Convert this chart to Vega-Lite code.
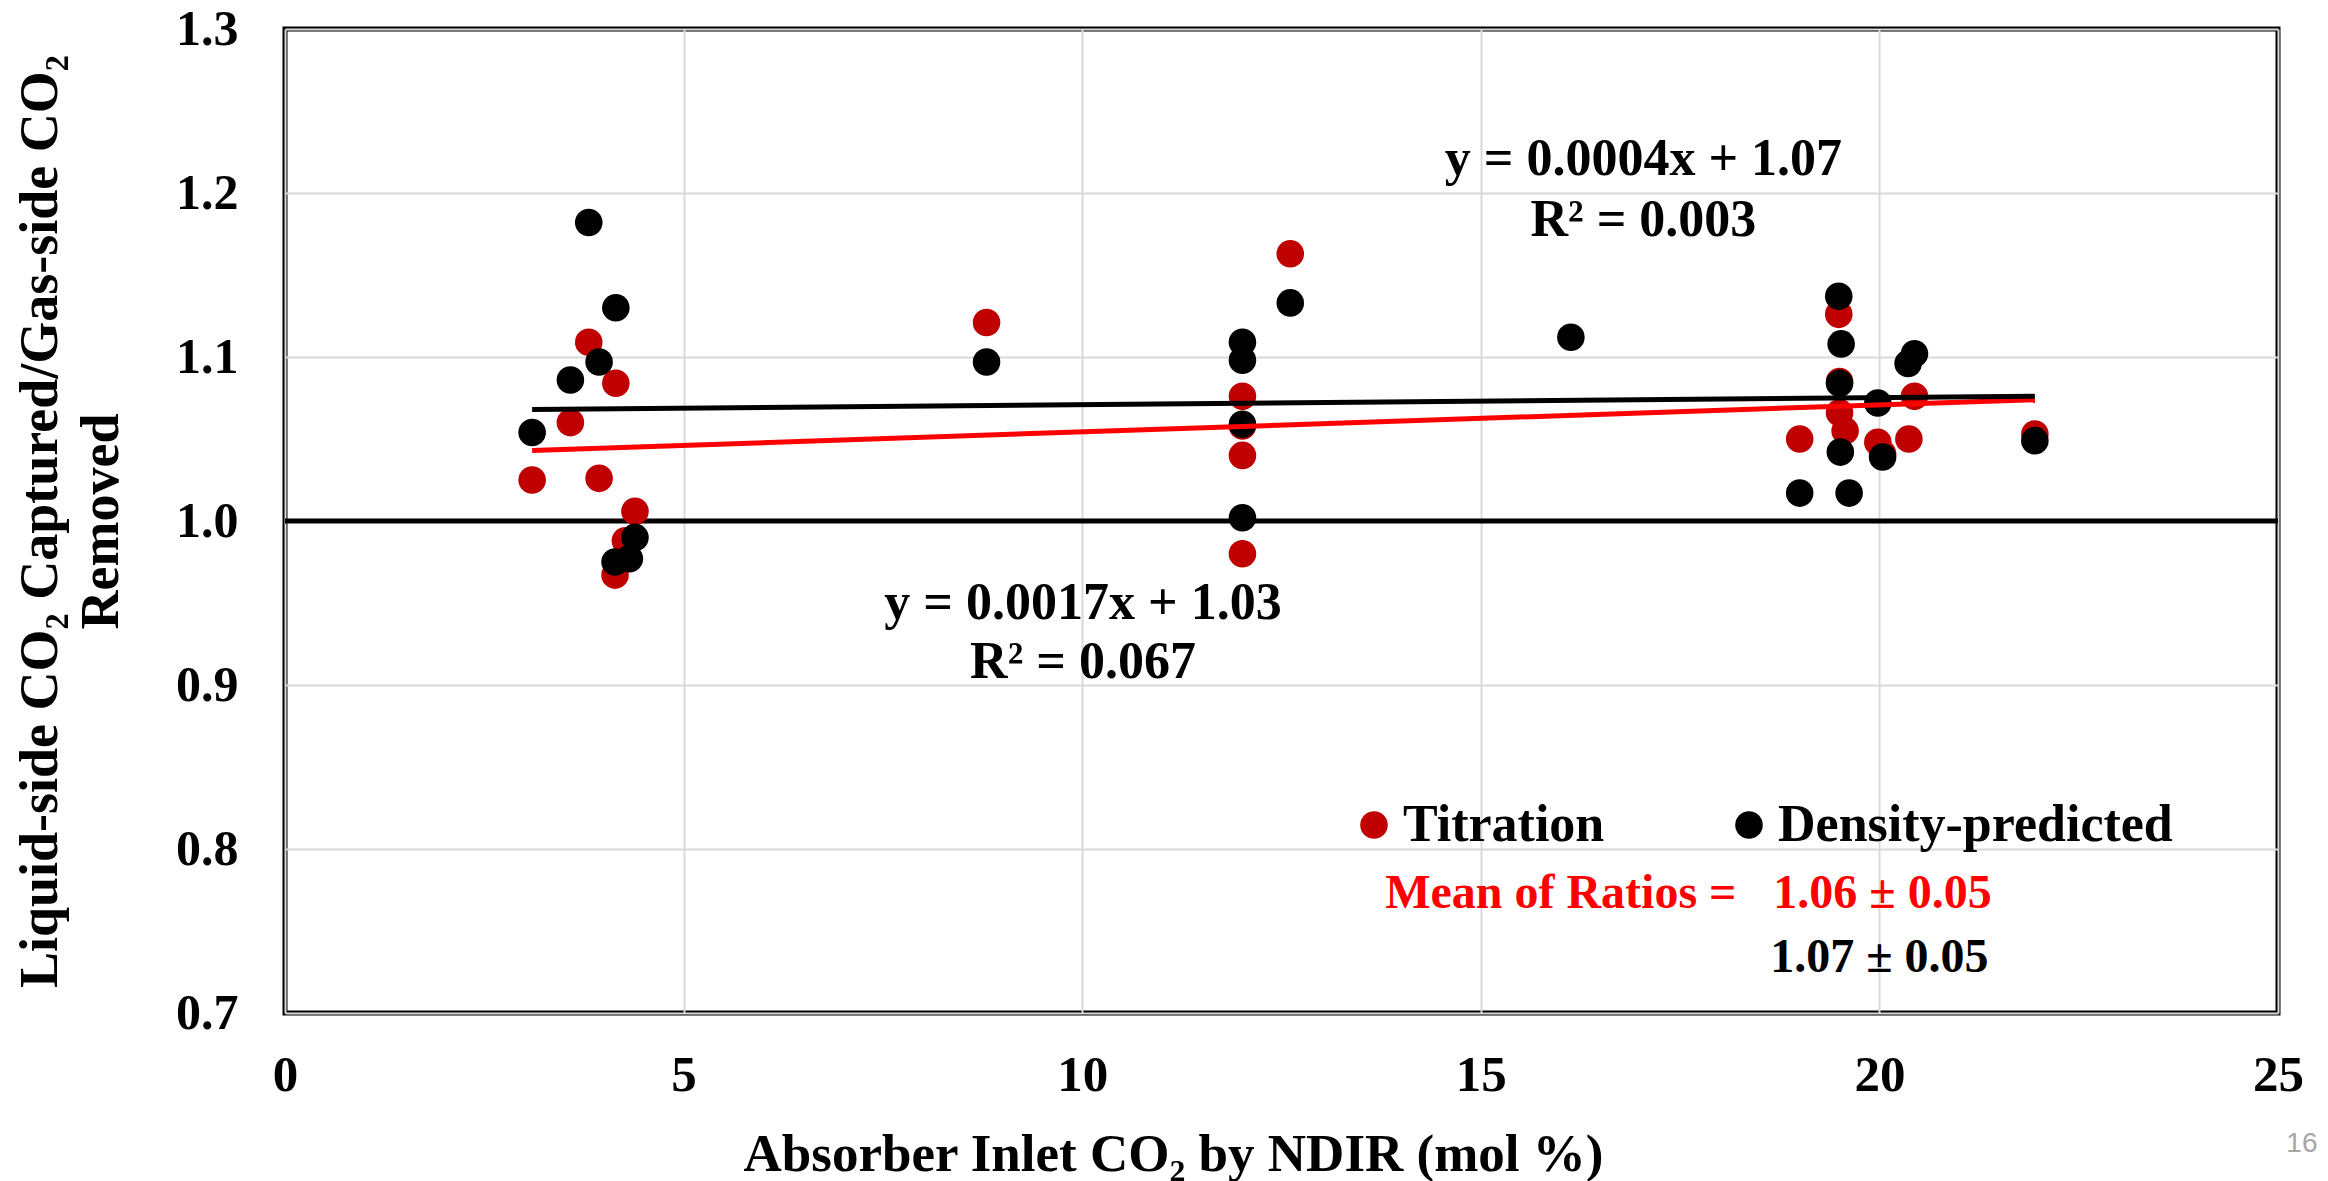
{
  "$schema": "https://vega.github.io/schema/vega-lite/v6.json",
  "width": 1993,
  "height": 984,
  "autosize": "none",
  "padding": {"left": 285, "top": 29, "right": 50, "bottom": 168},
  "background": "white",
  "config": {
    "view": {"stroke": "#000000", "strokeWidth": 5},
    "font": "Liberation Serif",
    "axis": {
      "labelFont": "Liberation Serif",
      "labelFontWeight": "bold",
      "labelColor": "#000000",
      "titleFont": "Liberation Serif",
      "titleFontWeight": "bold",
      "titleColor": "#000000",
      "grid": true,
      "gridColor": "#D9D9D9",
      "gridWidth": 2,
      "domain": false,
      "ticks": false,
      "tickSize": 0,
      "labelFlush": false,
      "labelOverlap": false,
      "titleLimit": 3000,
      "labelLimit": 1000
    },
    "legend": {
      "labelFont": "Liberation Serif",
      "labelFontWeight": "bold",
      "labelColor": "#000000",
      "labelFontSize": 52,
      "labelLimit": 2000,
      "symbolType": "circle",
      "symbolSize": 760,
      "symbolStrokeWidth": 0,
      "padding": 0,
      "rowPadding": 0
    }
  },
  "datasets": {
    "points": [
      {"series": "Titration", "x": 3.10, "y": 1.025},
      {"series": "Titration", "x": 3.58, "y": 1.060},
      {"series": "Titration", "x": 3.81, "y": 1.109},
      {"series": "Titration", "x": 3.94, "y": 1.026},
      {"series": "Titration", "x": 4.14, "y": 0.967},
      {"series": "Titration", "x": 4.15, "y": 1.084},
      {"series": "Titration", "x": 4.27, "y": 0.988},
      {"series": "Titration", "x": 4.39, "y": 1.006},
      {"series": "Titration", "x": 8.80, "y": 1.121},
      {"series": "Titration", "x": 12.01, "y": 1.076},
      {"series": "Titration", "x": 12.01, "y": 1.040},
      {"series": "Titration", "x": 12.01, "y": 0.980},
      {"series": "Titration", "x": 12.01, "y": 1.058},
      {"series": "Titration", "x": 12.61, "y": 1.163},
      {"series": "Titration", "x": 19.00, "y": 1.050},
      {"series": "Titration", "x": 19.49, "y": 1.126},
      {"series": "Titration", "x": 19.50, "y": 1.085},
      {"series": "Titration", "x": 19.50, "y": 1.066},
      {"series": "Titration", "x": 19.57, "y": 1.055},
      {"series": "Titration", "x": 19.98, "y": 1.048},
      {"series": "Titration", "x": 20.04, "y": 1.041},
      {"series": "Titration", "x": 20.37, "y": 1.050},
      {"series": "Titration", "x": 20.44, "y": 1.076},
      {"series": "Titration", "x": 21.95, "y": 1.053},
      {"series": "Density-predicted", "x": 3.10, "y": 1.054},
      {"series": "Density-predicted", "x": 3.58, "y": 1.086},
      {"series": "Density-predicted", "x": 3.81, "y": 1.182},
      {"series": "Density-predicted", "x": 3.94, "y": 1.097},
      {"series": "Density-predicted", "x": 4.14, "y": 0.975},
      {"series": "Density-predicted", "x": 4.15, "y": 1.130},
      {"series": "Density-predicted", "x": 4.32, "y": 0.977},
      {"series": "Density-predicted", "x": 4.39, "y": 0.990},
      {"series": "Density-predicted", "x": 8.80, "y": 1.097},
      {"series": "Density-predicted", "x": 12.01, "y": 1.109},
      {"series": "Density-predicted", "x": 12.01, "y": 1.098},
      {"series": "Density-predicted", "x": 12.01, "y": 1.059},
      {"series": "Density-predicted", "x": 12.01, "y": 1.002},
      {"series": "Density-predicted", "x": 12.61, "y": 1.133},
      {"series": "Density-predicted", "x": 16.13, "y": 1.112},
      {"series": "Density-predicted", "x": 19.00, "y": 1.017},
      {"series": "Density-predicted", "x": 19.49, "y": 1.137},
      {"series": "Density-predicted", "x": 19.52, "y": 1.108},
      {"series": "Density-predicted", "x": 19.50, "y": 1.084},
      {"series": "Density-predicted", "x": 19.51, "y": 1.042},
      {"series": "Density-predicted", "x": 19.62, "y": 1.017},
      {"series": "Density-predicted", "x": 19.98, "y": 1.072},
      {"series": "Density-predicted", "x": 20.04, "y": 1.039},
      {"series": "Density-predicted", "x": 20.36, "y": 1.096},
      {"series": "Density-predicted", "x": 20.44, "y": 1.102},
      {"series": "Density-predicted", "x": 21.95, "y": 1.049}
    ],
    "fits": [
      {"fit": "Titration", "x": 3.10, "y": 1.043},
      {"fit": "Titration", "x": 21.95, "y": 1.074},
      {"fit": "Density-predicted", "x": 3.10, "y": 1.068},
      {"fit": "Density-predicted", "x": 21.95, "y": 1.076}
    ],
    "refline": [
      {"x": 0, "x2": 25, "y": 1.0}
    ],
    "notes": [
      {"kind": "eq", "x": 17.04, "y": 1.211, "text": "y = 0.0004x + 1.07"},
      {"kind": "eq", "x": 17.04, "y": 1.174, "text": "R² = 0.003"},
      {"kind": "eq", "x": 10.01, "y": 0.940, "text": "y = 0.0017x + 1.03"},
      {"kind": "eq", "x": 10.01, "y": 0.904, "text": "R² = 0.067"},
      {"kind": "red", "x": 13.80, "y": 0.764, "text": "Mean of Ratios ="},
      {"kind": "red", "x": 18.67, "y": 0.764, "text": "1.06 ± 0.05"},
      {"kind": "black", "x": 18.63, "y": 0.725, "text": "1.07 ± 0.05"},
      {"kind": "page", "x": 25.3, "y": 0.615, "text": "16"}
    ]
  },
  "encoding": {
    "x": {
      "field": "x",
      "type": "quantitative",
      "scale": {"domain": [0, 25], "nice": false, "zero": false},
      "axis": {
        "title": "Absorber Inlet CO₂ by NDIR (mol %)",
        "values": [0, 5, 10, 15, 20, 25],
        "labelFontSize": 51,
        "labelPadding": 77,
        "labelBaseline": "alphabetic",
        "titleFontSize": 53,
        "titleX": 888,
        "titleY": 157,
        "titleAlign": "center",
        "titleBaseline": "alphabetic"
      }
    },
    "y": {
      "field": "y",
      "type": "quantitative",
      "scale": {"domain": [0.7, 1.3], "nice": false, "zero": false},
      "axis": {
        "title": ["Liquid-side CO₂ Captured/Gas-side CO₂", "Removed"],
        "values": [0.7, 0.8, 0.9, 1.0, 1.1, 1.2, 1.3],
        "format": ".1f",
        "labelFontSize": 50,
        "labelPadding": 47,
        "titleFontSize": 54,
        "titleLineHeight": 61,
        "titleAngle": -90,
        "titleX": -229,
        "titleY": 492,
        "titleAlign": "center",
        "titleBaseline": "alphabetic"
      }
    }
  },
  "layer": [
    {
      "data": {"name": "refline"},
      "mark": {"type": "rule", "color": "#000000", "strokeWidth": 5},
      "encoding": {"x2": {"field": "x2"}}
    },
    {
      "data": {"name": "points"},
      "mark": {"type": "circle", "size": 760, "opacity": 1},
      "encoding": {
        "color": {
          "field": "series",
          "type": "nominal",
          "scale": {"domain": ["Titration", "Density-predicted"], "range": ["#C00000", "#000000"]},
          "legend": {
            "title": null,
            "orient": "none",
            "direction": "horizontal",
            "legendX": 1063,
            "legendY": 770,
            "labelOffset": 3,
            "columnPadding": 118
          }
        }
      }
    },
    {
      "data": {"name": "fits"},
      "transform": [{"filter": "datum.fit === 'Titration'"}],
      "mark": {"type": "line", "color": "#FF0000", "strokeWidth": 5}
    },
    {
      "data": {"name": "fits"},
      "transform": [{"filter": "datum.fit === 'Density-predicted'"}],
      "mark": {"type": "line", "color": "#000000", "strokeWidth": 5}
    },
    {
      "data": {"name": "notes"},
      "transform": [{"filter": "datum.kind === 'eq'"}],
      "mark": {"type": "text", "font": "Liberation Serif", "fontWeight": "bold", "fontSize": 52, "align": "center", "baseline": "alphabetic", "color": "#000000"},
      "encoding": {"text": {"field": "text"}}
    },
    {
      "data": {"name": "notes"},
      "transform": [{"filter": "datum.kind === 'red'"}],
      "mark": {"type": "text", "font": "Liberation Serif", "fontWeight": "bold", "fontSize": 48, "align": "left", "baseline": "alphabetic", "color": "#FF0000"},
      "encoding": {"text": {"field": "text"}}
    },
    {
      "data": {"name": "notes"},
      "transform": [{"filter": "datum.kind === 'black'"}],
      "mark": {"type": "text", "font": "Liberation Serif", "fontWeight": "bold", "fontSize": 48, "align": "left", "baseline": "alphabetic", "color": "#000000"},
      "encoding": {"text": {"field": "text"}}
    },
    {
      "data": {"name": "notes"},
      "transform": [{"filter": "datum.kind === 'page'"}],
      "mark": {"type": "text", "font": "Liberation Sans", "fontSize": 28, "align": "center", "baseline": "alphabetic", "color": "#A6A6A6"},
      "encoding": {"text": {"field": "text"}}
    }
  ]
}
